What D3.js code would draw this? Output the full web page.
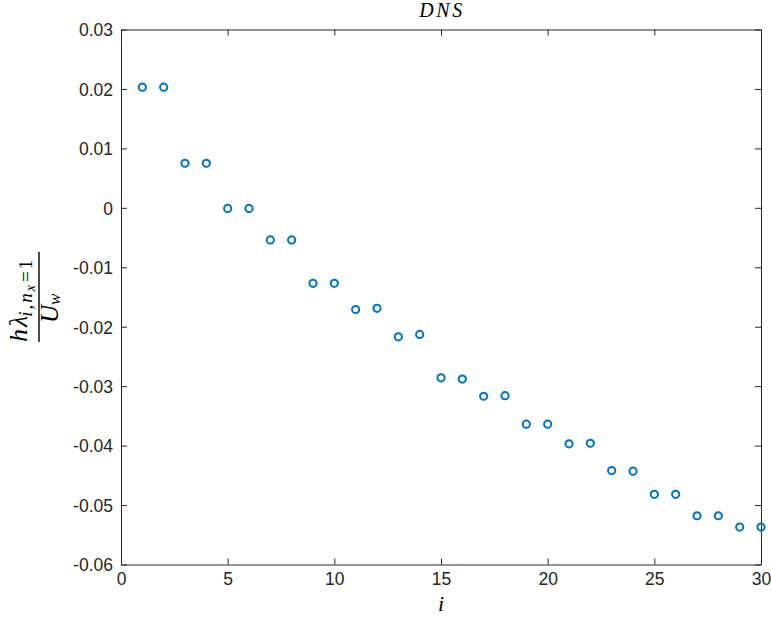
<!DOCTYPE html>
<html>
<head>
<meta charset="utf-8">
<script src="https://cdn.jsdelivr.net/npm/d3@7"></script>
<style>
  html, body { margin: 0; padding: 0; background: #fff; }
  svg { display: block; }
</style>
</head>
<body>
<svg id="chart" width="771" height="621"></svg>
<script>
// Mode index i = 1..30 and the scaled eigenvalue h*lambda/U_w for n_x = 1
const modeIndex = d3.range(1, 31);
const eigenValues = [
  0.0203, 0.0203, 0.0075, 0.0075, -0.0001, -0.0001, -0.0054, -0.0054,
  -0.0127, -0.0127, -0.0171, -0.0169, -0.0217, -0.0213, -0.0286, -0.0288,
  -0.0317, -0.0316, -0.0364, -0.0364, -0.0397, -0.0396, -0.0442, -0.0443,
  -0.0482, -0.0482, -0.0518, -0.0518, -0.0537, -0.0537
];
const xTicks = [0, 5, 10, 15, 20, 25, 30];
const yTicks = [0.03, 0.02, 0.01, 0, -0.01, -0.02, -0.03, -0.04, -0.05, -0.06];

const svg = d3.select("#chart");
const plotLeft = 121, plotRight = 761, plotTop = 29.5, plotBottom = 564.5;
const axisColor = "#262626";
const markColor = "#0072BD";

const x = d3.scaleLinear().domain([0, 30]).range([plotLeft, plotRight]);
const y = d3.scaleLinear().domain([-0.06, 0.03]).range([plotBottom, plotTop]);

const tickLen = 6;
const fmtY = d => d === 0 ? "0" : d3.format(".2f")(d).replace("−", "-");

// bottom axis
const gx = svg.append("g").attr("transform", `translate(0,${plotBottom})`)
  .call(d3.axisBottom(x).tickValues(xTicks).tickSizeInner(-tickLen).tickSizeOuter(0).tickPadding(8).tickFormat(d3.format("d")));
// top axis (box), ticks only
const gxt = svg.append("g").attr("transform", `translate(0,${plotTop})`)
  .call(d3.axisTop(x).tickValues(xTicks).tickSizeInner(-tickLen).tickSizeOuter(0).tickFormat(""));
// left axis
const gy = svg.append("g").attr("transform", `translate(${plotLeft},0)`)
  .call(d3.axisLeft(y).tickValues(yTicks).tickSizeInner(-tickLen).tickSizeOuter(0).tickPadding(8).tickFormat(fmtY));
// right axis (box), ticks only
const gyr = svg.append("g").attr("transform", `translate(${plotRight},0)`)
  .call(d3.axisRight(y).tickValues(yTicks).tickSizeInner(-tickLen).tickSizeOuter(0).tickFormat(""));

[gx, gxt, gy, gyr].forEach(g => {
  g.select(".domain").attr("stroke", axisColor).attr("stroke-width", 1);
  g.selectAll(".tick line").attr("stroke", axisColor).attr("stroke-width", 1);
  g.selectAll(".tick text")
    .attr("fill", axisColor)
    .style("font-family", "'Liberation Sans', Arial, Helvetica, sans-serif")
    .style("font-size", "17.5px");
});
gy.selectAll(".tick text").attr("dy", "0.36em");
gx.selectAll(".tick text").attr("dy", "0.72em");

// data markers
svg.append("g")
  .selectAll("circle")
  .data(modeIndex.map((i, k) => ({ i, v: eigenValues[k] })))
  .join("circle")
  .attr("cx", d => x(d.i))
  .attr("cy", d => y(d.v))
  .attr("r", 3.6)
  .attr("fill", "none")
  .attr("stroke", markColor)
  .attr("stroke-width", 2);

const serif = "'Liberation Serif', 'Times New Roman', serif";

// title
svg.append("text")
  .attr("x", 442)
  .attr("y", 17)
  .attr("text-anchor", "middle")
  .style("font-family", serif)
  .style("font-style", "italic")
  .style("font-size", "20px")
  .style("letter-spacing", "2.5px")
  .attr("fill", "#000")
  .text("DNS");

// x label
svg.append("text")
  .attr("x", (plotLeft + plotRight) / 2)
  .attr("y", 611)
  .attr("text-anchor", "middle")
  .style("font-family", serif)
  .style("font-style", "italic")
  .style("font-size", "22px")
  .attr("fill", "#000")
  .text("i");

// y label: fraction h λ_{i,n_x=1} / U_w, rotated
const yl = svg.append("g")
  .attr("transform", `translate(39,297) rotate(-90)`)
  .style("font-family", serif)
  .attr("fill", "#000");

yl.append("line")
  .attr("x1", -45).attr("x2", 45)
  .attr("y1", 0).attr("y2", 0)
  .attr("stroke", "#000").attr("stroke-width", 1.4);

// numerator with subscript i,n_x=1
const num = yl.append("text")
  .attr("x", -45).attr("y", -12)
  .style("font-size", "26px")
  .style("font-style", "italic");
num.append("tspan").style("letter-spacing", "2px").text("hλ");
num.append("tspan").attr("dy", 5).attr("dx", -3)
  .style("font-size", "19px").style("letter-spacing", "2px").text("i,n");
num.append("tspan").attr("dy", 3).style("font-size", "14px").text("x");
num.append("tspan").attr("dy", -3).attr("dx", 3)
  .style("font-size", "19px").style("font-style", "normal").style("letter-spacing", "2px").text("=1");

// denominator: U_w
const den = yl.append("text")
  .attr("x", -26).attr("y", 19)
  .style("font-size", "25px");
den.append("tspan").style("font-style", "italic").text("U");
den.append("tspan").attr("dy", 2).style("font-size", "17px").style("font-style", "italic").text("w");
</script>
</body>
</html>
